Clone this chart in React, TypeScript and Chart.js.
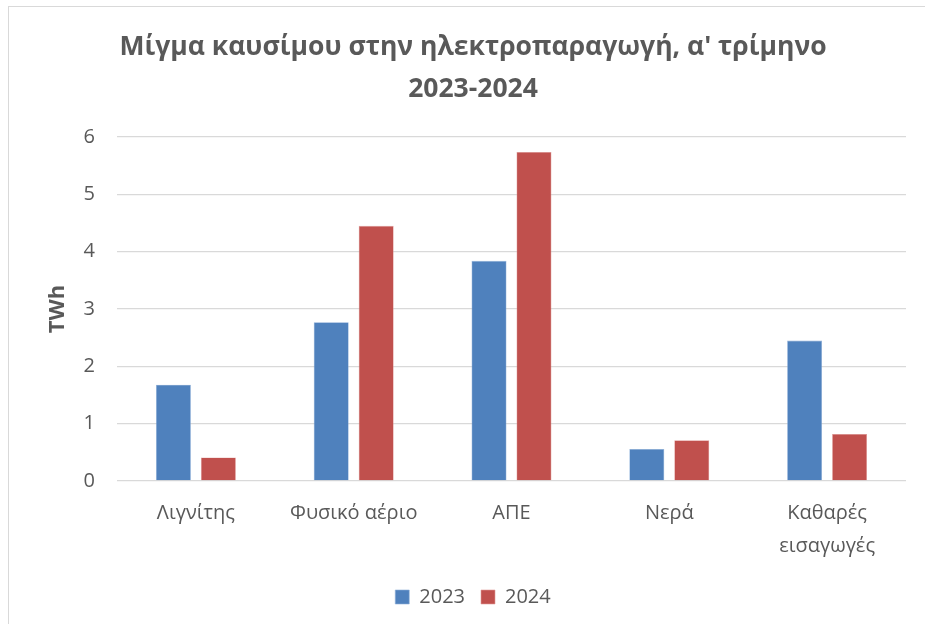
import React, { useEffect, useRef } from "react";
import { Chart, registerables } from "chart.js";

Chart.register(...registerables);

const titleLines = ["Μίγμα καυσίμου στην ηλεκτροπαραγωγή, α' τρίμηνο", "2023-2024"];
const categories: (string | string[])[] = ["Λιγνίτης", "Φυσικό αέριο", "ΑΠΕ", "Νερά", ["Καθαρές", "εισαγωγές"]];
const seriesNames = ["2023", "2024"];
const values2023 = [1.68, 2.77, 3.84, 0.56, 2.45];
const values2024 = [0.41, 4.45, 5.74, 0.71, 0.82];
const yMin = 0;
const yMax = 6;
const yStep = 1;
const yTitle = "TWh";

const FONT = "'Open Sans', sans-serif";
const TEXT = "#595959";
const GRID = "#d9d9d9";

export default function App() {
  const ref = useRef<HTMLCanvasElement | null>(null);

  useEffect(() => {
    document.body.style.margin = "0";
    document.body.style.overflow = "hidden";
    if (!ref.current) return;
    const chart = new Chart(ref.current, {
      type: "bar",
      data: {
        labels: categories as any,
        datasets: [
          {
            label: seriesNames[0],
            data: values2023,
            backgroundColor: "#4f81bd",
            borderColor: "#8fb0d9",
            borderWidth: 0.6,
            categoryPercentage: 0.57,
            barPercentage: 0.778,
          },
          {
            label: seriesNames[1],
            data: values2024,
            backgroundColor: "#c0504d",
            borderColor: "#e09a98",
            borderWidth: 0.6,
            categoryPercentage: 0.57,
            barPercentage: 0.778,
          },
        ],
      },
      options: {
        animation: false,
        responsive: false,
        layout: { padding: { left: 23, right: 11, top: 0, bottom: 7 } },
        plugins: {
          title: {
            display: true,
            text: titleLines,
            color: TEXT,
            font: { family: FONT, size: 26.5, weight: "bold", lineHeight: 1.585 },
            padding: { top: 19, bottom: 27 },
          },
          legend: {
            position: "bottom",
            labels: {
              color: TEXT,
              font: { family: FONT, size: 20 },
              boxWidth: 14,
              boxHeight: 14,
              padding: 16,
            },
          },
          tooltip: { enabled: false },
        },
        scales: {
          x: {
            grid: { display: false },
            border: { display: false },
            ticks: {
              color: TEXT,
              font: { family: FONT, size: 20, lineHeight: 1.65 },
              padding: 8,
              maxRotation: 0,
              autoSkip: false,
            },
          },
          y: {
            min: yMin,
            max: yMax,
            grid: { color: GRID, lineWidth: 1.3, drawTicks: false },
            border: { display: false },
            ticks: {
              stepSize: yStep,
              color: TEXT,
              font: { family: FONT, size: 20 },
              padding: 22,
            },
            title: {
              display: true,
              text: yTitle,
              color: TEXT,
              font: { family: FONT, size: 22, weight: "bold", lineHeight: 1.2 },
              padding: { top: 13, bottom: 0 },
            },
            afterFit: (s: any) => {
              s.width = 85;
            },
          },
          yRight: {
            type: "linear",
            position: "right",
            display: true,
            grid: { display: false },
            border: { display: false },
            ticks: { display: false },
            afterFit: (s: any) => {
              s.width = 8;
            },
          },
        },
      },
    });
    return () => chart.destroy();
  }, []);

  return (
    <div
      style={{
        position: "fixed",
        left: 8,
        top: 6,
        width: 917,
        height: 618,
        borderLeft: "1px solid #d9d9d9",
        borderTop: "1px solid #d9d9d9",
        boxSizing: "border-box",
        background: "#fff",
      }}
    >
      <canvas ref={ref} width={916} height={617} style={{ display: "block" }} />
    </div>
  );
}
